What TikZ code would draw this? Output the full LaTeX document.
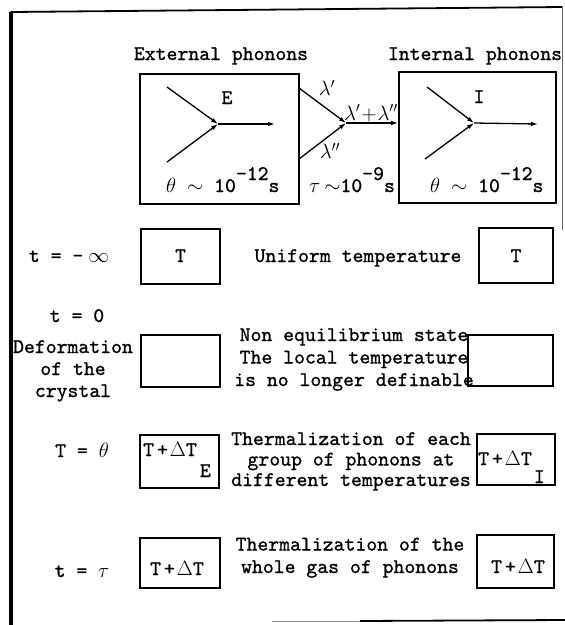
\documentclass[tikz,border=0pt]{standalone}
\usepackage{fontspec}
\usetikzlibrary{arrows.meta}
\newfontfamily\twfam{lmmono10-regular}[Extension=.otf, FakeBold=0.9]
\newcommand\twfont{\fontsize{20.74}{22.5}\selectfont\twfam}
\newcommand\upsc[1]{\raisebox{12pt}{#1}}
\newcommand\tdt{T\hspace{3pt}+\hspace{2pt}$\Delta$T}
\begin{document}
\begin{tikzpicture}[x=1pt,y=-1pt,
  bx/.style={draw, line width=1.6pt, inner sep=0pt},
  lbl/.style={inner sep=0pt, font=\twfont, anchor=base},
  mlbl/.style={inner sep=0pt, font=\twfont, anchor=base, align=center},
  ar/.style={line width=1.3pt, -{Latex[length=7pt,width=4.5pt]}},
  fr/.style={line width=1.8pt, line cap=round}
]
\useasboundingbox (0,0) rectangle (565,625);

% frame
\coordinate (f1) at (11,625);
\coordinate (f2) at (11,12);
\coordinate (f3) at (562,7);
\coordinate (f4) at (562,230);
\coordinate (f5) at (272,621);
\coordinate (f6) at (360,621);
\coordinate (f7) at (565,620);
\draw[line width=3.5pt] (f1) -- (f2);
\draw[fr] (f2) -- (f3);
\draw[line width=0.8pt, black!60] (f3) -- (f4);
\draw[line width=1pt, black!45] (f5) -- (f6);
\draw[line width=1.8pt] (f6) -- (f7);

% top headings
\node[lbl] (hE) at (221,60) {External phonons};
\node[lbl] (hI) at (475,60) {Internal phonons};

% top boxes
\node[bx, minimum width=159pt, minimum height=130pt] (E) at (219.5,139) {};
\node[bx, minimum width=157pt, minimum height=131pt] (I) at (477.5,137.5) {};

% E vertex
\coordinate (eU) at (167,87);
\coordinate (eL) at (167,162);
\coordinate (eJ) at (218,124);
\coordinate (eO) at (275,124);
\draw[ar] (eU) -- (eJ);
\draw[ar] (eL) -- (eJ);
\draw[ar] (eJ) -- (eO);
\node[lbl] (lE) at (227,104) {E};
\node[lbl, anchor=base west] (thE) at (166,192) {$\theta$ $\sim$ 10\upsc{-12}s};

% middle vertex
\coordinate (mU) at (299,88);
\coordinate (mL) at (299,159);
\coordinate (mJ) at (346,123);
\draw[ar] (mU) -- (mJ);
\draw[ar] (mL) -- (mJ);
\draw[ar] (mJ) -- (mJ -| I.west);
\node[inner sep=0pt, font=\twfont] (l1) at (327,88) {$\lambda'$};
\node[inner sep=0pt, font=\twfont] (l12) at (371,113) {$\lambda'\!+\!\lambda''$};
\node[inner sep=0pt, font=\twfont] (l2) at (330,151) {$\lambda''$};
\node[lbl, anchor=base west] (tau) at (309,192) {$\tau$\hspace{4pt}$\sim$10\upsc{-9}s};

% I vertex
\coordinate (iU) at (427,87);
\coordinate (iL) at (425,159);
\coordinate (iJ) at (474,123);
\coordinate (iO) at (538,124);
\draw[ar] (iU) -- (iJ);
\draw[ar] (iL) -- (iJ);
\draw[ar] (iJ) -- (iO);
\node[lbl] (lI) at (479,103) {I};
\node[lbl, anchor=base west] (thI) at (430,192) {$\theta$ $\sim$ 10\upsc{-12}s};

% row 2
\node[lbl] (t2) at (69,262) {t = -\hspace{5pt}$\infty$};
\node[bx, minimum width=79pt, minimum height=55pt] (r2L) at (180.5,256.5) {};
\node[lbl] (r2Lt) at (180.5,262) {T};
\node[lbl] (u2) at (358,262) {Uniform temperature};
\node[bx, minimum width=74pt, minimum height=55pt] (r2R) at (516,255.5) {};
\node[lbl] (r2Rt) at (516,262) {T};

% row 3
\node[lbl] (t3) at (77,322) {t = 0};
\node[mlbl] (d3) at (73,397) {Deformation\\[-0.5pt]of the\\[-0.5pt]crystal};
\node[bx, minimum width=79pt, minimum height=52pt] (r3L) at (180.5,361) {};
\node[mlbl] (n3) at (354,386) {Non equilibrium state\\The local temperature\\is no longer definable};
\node[bx, minimum width=85pt, minimum height=51pt] (r3R) at (510.5,360.5) {};

% row 4
\node[lbl] (t4) at (82,457) {T = $\theta$};
\node[bx, minimum width=79pt, minimum height=53pt] (r4L) at (179.5,461.5) {};
\node[lbl, anchor=base west] (r4Lt) at (143,456) {\tdt\hspace{3pt}\raisebox{-21pt}{E}};
\node[mlbl] (n4) at (351,486) {Thermalization of each\\[-2pt]group of phonons at\\[-2pt]different temperatures};
\node[bx, minimum width=78pt, minimum height=51pt] (r4R) at (516,459.5) {};
\node[lbl, anchor=base west] (r4Rt) at (478,465) {\tdt\hspace{2pt}\raisebox{-18pt}{I}};

% row 5
\node[lbl] (t5) at (82,577) {t = $\tau$};
\node[bx, minimum width=80pt, minimum height=50pt] (r5L) at (180,563) {};
\node[lbl] (r5Lt) at (177,575) {\tdt};
\node[mlbl] (n5) at (350,573) {Thermalization of the\\whole gas of phonons};
\node[bx, minimum width=77pt, minimum height=53pt] (r5R) at (515.5,561.5) {};
\node[lbl] (r5Rt) at (518,573) {\tdt};
\end{tikzpicture}
\end{document}
